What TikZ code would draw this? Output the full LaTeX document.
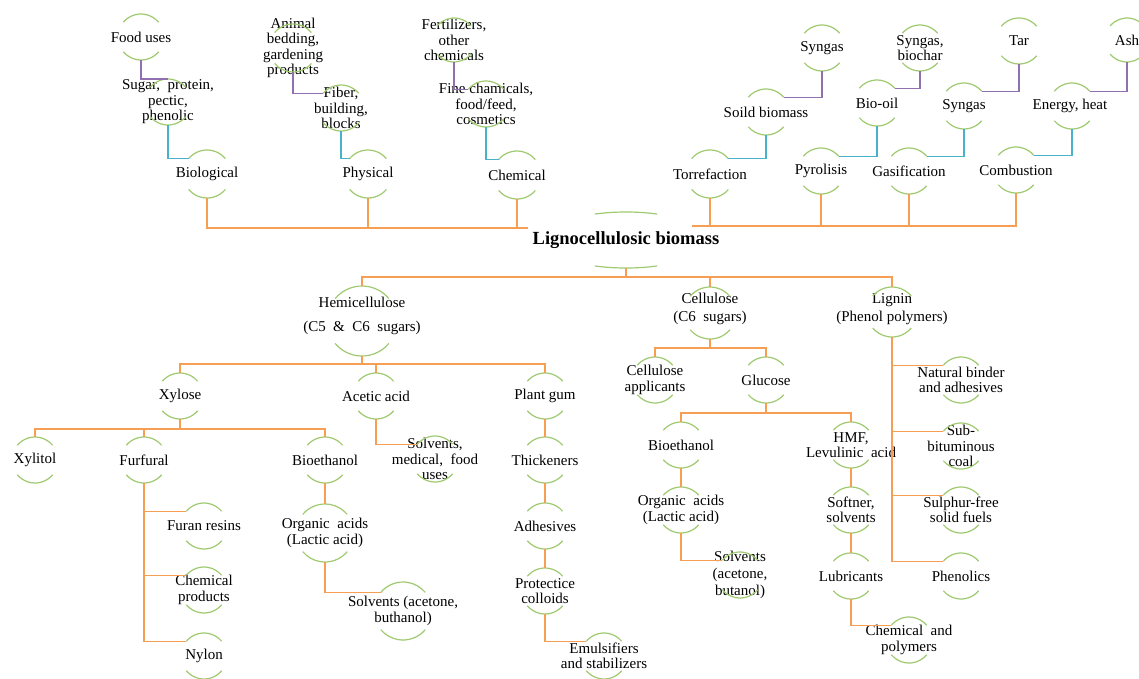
\documentclass[tikz,border=0pt]{standalone}
\usepackage{fontspec}
\setmainfont{Liberation Serif}
\usetikzlibrary{calc}
\definecolor{orc}{RGB}{247,158,85}
\definecolor{grc}{RGB}{160,202,112}
\definecolor{cyc}{RGB}{72,178,205}
\definecolor{puc}{RGB}{145,112,178}
\tikzset{
  txt/.style={align=center,inner sep=0pt,font=\fontsize{15}{15.5}\selectfont},
  roottxt/.style={align=center,inner sep=0pt,font=\fontsize{18.5}{20}\selectfont\bfseries},
  garc/.style={draw=grc,line width=1.2pt},
  oline/.style={draw=orc,line width=1.4pt},
  cline/.style={draw=cyc,line width=1.4pt},
  pline/.style={draw=puc,line width=1.4pt}
}
% \gn[text options]{name}{x,y}{radius}{text}
\newcommand\gn[5][]{%
  \coordinate (#2-c) at (#3);
  \node[txt,#1] (#2) at (#2-c) {#5};
  \draw[garc] ([shift={(220:#4)}]#2-c) arc[start angle=220,end angle=320,radius=#4];
  \draw[garc] ([shift={(40:#4)}]#2-c) arc[start angle=40,end angle=140,radius=#4];
  \coordinate (#2-t) at ([shift={(270:#4)}]#2-c);
  \coordinate (#2-b) at ([shift={(90:#4)}]#2-c);
  \coordinate (#2-tl) at ([shift={(220:#4)}]#2-c);
  \coordinate (#2-tr) at ([shift={(320:#4)}]#2-c);
}
\begin{document}
\begin{tikzpicture}[x=1pt,y=-1pt]
\useasboundingbox (0,0) rectangle (1139,678);
\fill[white] (0,0) rectangle (1139,678);

% ---------- root ----------
\node[roottxt] (root) at (626,240) {Lignocellulosic biomass};
\draw[garc] ([shift={(248:83 and 28)}]root.center) arc[start angle=248,end angle=292,x radius=83,y radius=28];
\draw[garc] ([shift={(68:83 and 28)}]root.center) arc[start angle=68,end angle=112,x radius=83,y radius=28];
\coordinate (root-l) at (528,228);
\coordinate (root-r) at (692,226);
\coordinate (root-b) at (626,268);
\coordinate (busA) at (626,277);

% ---------- top left ----------
\gn{food}{141,37}{23}{Food uses}
\gn{sugar}{168,102}{23}{Sugar,~ protein,\\pectic,\\phenolic}
\gn{bio}{207,174}{24}{Biological}
\gn{animal}{293,48}{24}{Animal\\bedding,\\gardening\\products}
\gn{fiber}{341,108}{23}{Fiber,\\building,\\blocks}
\gn{phys}{368,174}{24}{Physical}
\gn{fert}{454,40}{22}{Fertilizers,\\other\\chemicals}
\gn{fine}{486,104}{23}{Fine chamicals,\\food/feed,\\cosmetics}
\gn{chem}{517,175}{24}{Chemical}

% ---------- top right ----------
\gn{torr}{710,174}{24}{Torrefaction}
\gn{soild}{766,112}{23}{Soild biomass}
\gn{syn1}{822,48}{23}{Syngas}
\gn{pyr}{821,171}{23}{Pyrolisis}
\gn{oil}{877,103}{23}{Bio-oil}
\gn{synb}{920,48}{23}{Syngas,\\biochar}
\gn{gas}{909,171}{23}{Gasification}
\gn{syn2}{964,106}{23}{Syngas}
\gn{tar}{1019,41}{23}{Tar}
\gn{comb}{1016,170}{23}{Combustion}
\gn[xshift=-2pt]{en}{1072,106}{23}{Energy, heat}
\gn{ash}{1127,40}{22}{Ash}

% ---------- bottom ----------
\gn[yshift=5pt]{hemi}{362,321}{35}{Hemicellulose\\[8pt](C5~ \&~ C6~ sugars)}
\gn[yshift=4pt]{cel}{710,313}{26}{Cellulose\\[2pt](C6~ sugars)}
\gn[yshift=3pt]{lig}{892,312}{25}{Lignin\\[2pt](Phenol polymers)}
\gn{xyl}{180,396}{23}{Xylose}
\gn{ace}{376,396}{23}{Acetic acid}
\gn{pg}{545,396}{23}{Plant gum}
\gn{capp}{655,380}{23}{Cellulose\\applicants}
\gn{glu}{766,380}{23}{Glucose}
\gn{nat}{961,380}{23}{Natural binder\\and adhesives}
\gn{sub}{961,446}{23}{Sub-\\bituminous\\coal}
\gn{sul}{961,510}{23}{Sulphur-free\\solid fuels}
\gn{phe}{961,576}{23}{Phenolics}
\gn{xylt}{35,460}{23}{Xylitol}
\gn{fur}{144,460}{23}{Furfural}
\gn{beA}{325,460}{23}{Bioethanol}
\gn{solvA}{435,459}{23}{Solvents,\\medical,~ food\\uses}
\gn{thk}{545,460}{23}{Thickeners}
\gn{beB}{681,445}{23}{Bioethanol}
\gn{hmf}{851,445}{23}{HMF,\\Levulinic~ acid}
\gn{furan}{204,526}{23}{Furan resins}
\gn{chp}{204,590}{23}{Chemical\\products}
\gn{nyl}{204,656}{23}{Nylon}
\gn{orgA}{325,533}{29}{Organic~ acids\\(Lactic acid)}
\gn{solvB}{403,611}{29}{Solvents (acetone,\\buthanol)}
\gn{adh}{545,526}{23}{Adhesives}
\gn{pc}{545,591}{23}{Protectice\\colloids}
\gn{emu}{604,656}{23}{Emulsifiers\\and stabilizers}
\gn{orgB}{681,510}{23}{Organic~ acids\\(Lactic acid)}
\gn{solvC}{740,575}{23}{Solvents\\[1.5pt](acetone,\\[1.5pt]butanol)}
\gn{soft}{851,510}{23}{Softner,\\solvents}
\gn{lub}{851,576}{23}{Lubricants}
\gn{cpol}{909,640}{23}{Chemical~ and\\polymers}

% ---------- connectors: top ----------
\draw[oline] (root-l) -| (bio-b);
\draw[oline] (phys-b) -- (phys-b |- root-l);
\draw[oline] (chem-b) -- (chem-b |- root-l);
\draw[oline] (root-r) -| (comb-b);
\draw[oline] (torr-b) -- (torr-b |- root-r);
\draw[oline] (pyr-b) -- (pyr-b |- root-r);
\draw[oline] (gas-b) -- (gas-b |- root-r);

\draw[pline] (food-b) |- (sugar-t);
\draw[cline] (sugar-b) |- (bio-tl);
\draw[pline] (animal-b) |- (fiber-tl);
\draw[cline] (fiber-b) |- (phys-tl);
\draw[pline] (fert-b) |- (fine-tl);
\draw[cline] (fine-b) |- (chem-tl);

\draw[cline] (torr-tr) -| (soild-b);
\draw[pline] (soild-tr) -| (syn1-b);
\draw[cline] (pyr-tr) -| (oil-b);
\draw[pline] (oil-tr) -| (synb-b);
\draw[cline] (gas-tr) -| (syn2-b);
\draw[pline] (syn2-tr) -| (tar-b);
\draw[cline] (comb-tr) -| (en-b);
\draw[pline] (en-tr) -| (ash-b);

% ---------- connectors: bottom ----------
\draw[oline] (root-b) -- (busA);
\draw[oline] (hemi-t) |- (busA) -| (lig-t);
\draw[oline] (cel-t) -- (cel-t |- busA);

\coordinate (hbus) at (362,364);
\draw[oline] (hemi-b) -- (hbus);
\draw[oline] (xyl-t) |- (hbus) -| (pg-t);
\draw[oline] (ace-t) -- (ace-t |- hbus);

\coordinate (xbus) at (180,429);
\draw[oline] (xyl-b) -- (xbus);
\draw[oline] (xylt-t) |- (xbus) -| (beA-t);
\draw[oline] (fur-t) -- (fur-t |- xbus);

\draw[oline] (fur-b) |- (furan-tl);
\draw[oline] (fur-b) |- (chp-tl);
\draw[oline] (fur-b) |- (nyl-tl);
\draw[oline] (beA-b) -- (orgA-t);
\draw[oline] (orgA-b) |- (solvB-tl);
\draw[oline] (ace-b) |- (solvA-tl);
\draw[oline] (pg-b) -- (thk-t);
\draw[oline] (thk-b) -- (adh-t);
\draw[oline] (adh-b) -- (pc-t);
\draw[oline] (pc-b) |- (emu-tl);

\coordinate (cbus) at (710,348);
\draw[oline] (cel-b) -- (cbus);
\draw[oline] (capp-t) |- (cbus) -| (glu-t);
\coordinate (gbus) at (766,413);
\draw[oline] (glu-b) -- (gbus);
\draw[oline] (beB-t) |- (gbus) -| (hmf-t);
\draw[oline] (beB-b) -- (orgB-t);
\draw[oline] (orgB-b) |- (solvC-tl);
\draw[oline] (hmf-b) -- (soft-t);
\draw[oline] (soft-b) -- (lub-t);
\draw[oline] (lub-b) |- (cpol-tl);

\draw[oline] (lig-b) |- (nat-tl);
\draw[oline] (lig-b) |- (sub-tl);
\draw[oline] (lig-b) |- (sul-tl);
\draw[oline] (lig-b) |- (phe-tl);
\end{tikzpicture}
\end{document}
